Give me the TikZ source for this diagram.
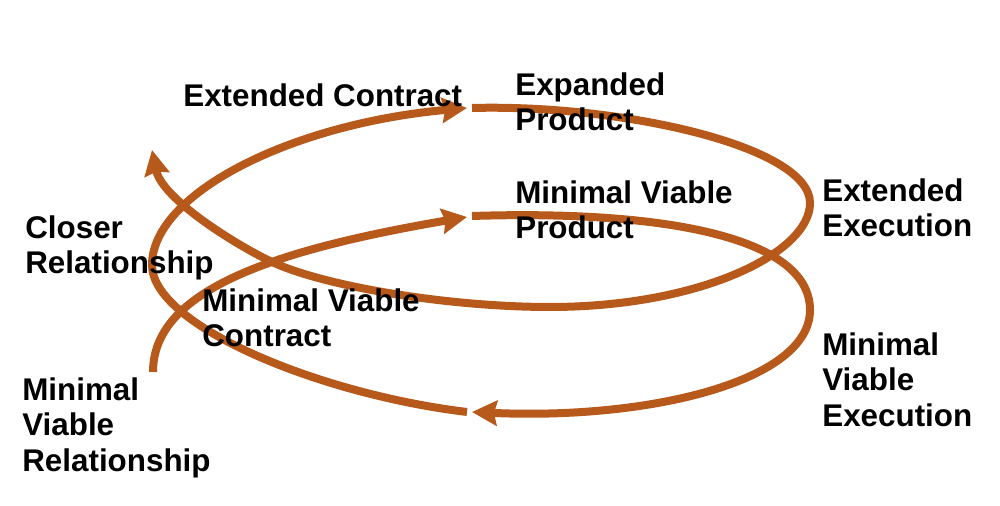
\documentclass[tikz,border=0pt]{standalone}
\usepackage{fontspec}
\setmainfont{Liberation Sans}
\usetikzlibrary{arrows.meta}
\definecolor{rust}{RGB}{182,89,27}
\begin{document}
\begin{tikzpicture}[
        x = 0.02cm, y = 0.02cm,
        arr/.style = {draw = rust, line width = 0.16cm, -{Stealth[length = 0.5cm, width = 0.5cm, inset = 0.06cm]}},
        txt/.style = {anchor = north west, inner sep = 0mm, align = left, font = \fontsize{17.85}{20.2}\selectfont\bfseries},
    ]
    \useasboundingbox (0, 0) rectangle (1000, 506);

    \coordinate (S1) at (153, 134);
    \coordinate (T1) at (467, 289);
    \coordinate (S2) at (472, 290);
    \coordinate (R2) at (810, 196);
    \coordinate (T2) at (472, 94);
    \coordinate (S3) at (467, 94);
    \coordinate (L3) at (152, 241);
    \coordinate (T3) at (467, 398);
    \coordinate (S4) at (472, 398);
    \coordinate (R4) at (810, 303);
    \coordinate (B4) at (550, 199);
    \coordinate (K4) at (272, 244);
    \coordinate (T4) at (152, 356);

    \path[arr] (S1) .. controls (153, 214) and (268, 255) .. (T1);
    \path[arr] (S2) .. controls (660, 296) and (810, 270) .. (R2)
                    .. controls (810, 125) and (650, 86) .. (T2);
    \path[arr] (S3) .. controls (318, 112) and (152, 181) .. (L3)
                    .. controls (152, 312) and (290, 382) .. (T3);
    \path[arr] (S4) .. controls (620, 402) and (810, 360) .. (R4)
                    .. controls (810, 253) and (700, 199) .. (B4)
                    .. controls (450, 199) and (326, 219) .. (K4)
                    .. controls (236, 261) and (162, 307) .. (T4);

    \node (ExtCon) at (183, 423) [txt] {Extended Contract};
    \node (ExpPro) at (515, 434) [txt] {Expanded\\Product};
    \node (MinPro) at (515, 326) [txt] {Minimal Viable\\Product};
    \node (ExtExe) at (822, 328) [txt] {Extended\\Execution};
    \node (MinExe) at (822, 174) [txt] {Minimal\\Viable\\Execution};
    \node (CloRel) at (25, 291) [txt] {Closer\\Relationship};
    \node (MinCon) at (202, 218) [txt] {Minimal Viable\\Contract};
    \node (MinRel) at (22, 129) [txt] {Minimal\\Viable\\Relationship};
\end{tikzpicture}
\end{document}
